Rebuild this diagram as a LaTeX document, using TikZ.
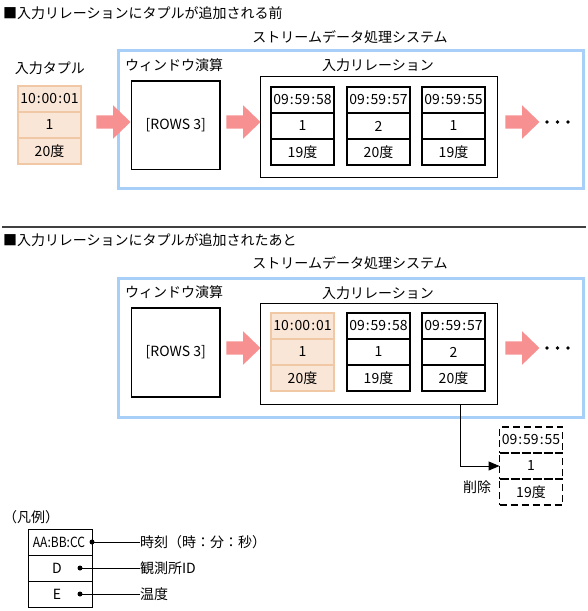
\documentclass[tikz,border=0pt]{standalone}
\usepackage{fontspec}
\setmainfont{Noto Sans CJK JP}
\usetikzlibrary{shapes.arrows,arrows.meta}
\definecolor{sysblue}{RGB}{168,207,247}
\definecolor{arrowpink}{RGB}{247,145,145}
\definecolor{peachfill}{RGB}{250,230,214}
\definecolor{peachline}{RGB}{240,200,165}
\definecolor{sepgray}{RGB}{64,64,64}
\newcommand\cln{\kern1pt:\kern1pt}
\tikzset{
  lbl/.style={inner sep=0pt, outer sep=0pt},
  sysbox/.style={draw=sysblue, line width=3pt, inner sep=0pt, outer sep=0pt, anchor=north west},
  plainbox/.style={draw=black, line width=1pt, inner sep=0pt, outer sep=0pt, anchor=north west},
  cell/.style={draw=black, line width=1.2pt, minimum width=63pt, minimum height=26pt, inner sep=0pt, outer sep=0pt},
  peach/.style={fill=peachfill, draw=peachline},
  dashcell/.style={dash pattern=on 7pt off 4pt},
  fatarrow/.style={single arrow, fill=arrowpink, draw=none, inner xsep=0pt, inner ysep=6.5pt,
    minimum height=34pt, single arrow head extend=10pt, single arrow tip angle=88, outer sep=0pt},
  legcell/.style={draw=black, line width=1pt, minimum width=64pt, minimum height=26pt, inner sep=0pt, outer sep=0pt}
}
\newcommand\tupl[7]{%
  \node[cell,#4,anchor=north west] (#1a) at (#2,#3) {#5};
  \node[cell,#4,anchor=north] (#1b) at (#1a.south) {#6};
  \node[cell,#4,anchor=north] (#1c) at (#1b.south) {#7};}
\begin{document}
\begin{tikzpicture}[x=1pt,y=-1pt,font=\fontsize{14}{16}\selectfont]
\useasboundingbox (0,0) rectangle (588,611);
% ---------- section 1 ----------
\node[lbl,anchor=west] (title1) at (3,13) {■入力リレーションにタプルが追加される前};
\node[lbl] (sysname1) at (350,37) {ストリームデータ処理システム};
\node[sysbox, minimum width=465pt, minimum height=138pt] (sys1) at (118,50) {};
\node[lbl] (intuplbl) at (50,68) {入力タプル};
\tupl{in}{18}{86}{peach}{10\cln 00\cln 01}{1}{20度}
\node[lbl,anchor=west] (win1lbl) at (125,65) {ウィンドウ演算};
\node[plainbox, line width=1.2pt, minimum width=88.5pt, minimum height=88.5pt] (win1) at (131.5,81) {};
\node[lbl] (rows1) at (win1.center) {[ROWS 3]};
\node[lbl] (rel1lbl) at (378,65) {入力リレーション};
\node[plainbox, minimum width=237pt, minimum height=101pt] (rel1) at (260,76) {};
\tupl{ra}{271}{87}{}{09\cln 59\cln 58}{1}{19度}
\tupl{rb}{347}{87}{}{09\cln 59\cln 57}{2}{20度}
\tupl{rc}{422}{87}{}{09\cln 59\cln 55}{1}{19度}
\node[fatarrow] (a1) at (110,122) {};
\node[fatarrow] (a2) at (240,122) {};
\node[fatarrow] (a3) at (519,122) {};
\fill (547,122) circle (1.8) (557.5,122) circle (1.8) (568,122) circle (1.8);
% separator
\draw[sepgray, line width=1.5pt] (2,227) -- (586,227);
% ---------- section 2 ----------
\node[lbl,anchor=west] (title2) at (3,240) {■入力リレーションにタプルが追加されたあと};
\node[lbl] (sysname2) at (350,263) {ストリームデータ処理システム};
\node[sysbox, minimum width=465pt, minimum height=139pt] (sys2) at (118,278) {};
\node[lbl,anchor=west] (win2lbl) at (125,292) {ウィンドウ演算};
\node[plainbox, line width=1.2pt, minimum width=88.5pt, minimum height=89pt] (win2) at (131.5,308) {};
\node[lbl] (rows2) at (win2.center) {[ROWS 3]};
\node[lbl] (rel2lbl) at (378,293) {入力リレーション};
\node[plainbox, minimum width=237pt, minimum height=101pt] (rel2) at (260,303) {};
\tupl{sa}{271}{313}{peach}{10\cln 00\cln 01}{1}{20度}
\tupl{sb}{347}{313}{}{09\cln 59\cln 58}{1}{19度}
\tupl{sc}{422}{313}{}{09\cln 59\cln 57}{2}{20度}
\node[fatarrow] (b2) at (240,348) {};
\node[fatarrow] (b3) at (519,348) {};
\fill (547,348) circle (1.8) (557.5,348) circle (1.8) (568,348) circle (1.8);
% deleted tuple
\tupl{d}{499.5}{427}{dashcell}{09\cln 59\cln 55}{1}{19度}
\coordinate (delstart) at ([xshift=200pt]rel2.south west);
\draw[line width=1pt, -{Triangle[length=11pt,width=9pt]}] (delstart) |- (db.west);
\node[lbl] (dellbl) at (477,487) {削除};
% ---------- legend ----------
\node[lbl,anchor=west] (leglbl) at (3,517) {（凡例）};
\node[legcell,anchor=north west] (la) at (28,529) {\hspace*{-2pt}\scalebox{0.86}[1]{AA:BB:CC}};
\node[legcell,anchor=north] (lb) at (la.south) {\hspace*{-6pt}D};
\node[legcell,anchor=north] (lc) at (lb.south) {\hspace*{-6pt}E};
\coordinate (da) at (92,542);
\coordinate (dbb) at (80,568);
\coordinate (dc) at (80,594);
\node[lbl,anchor=west] (ta) at (140,542) {時刻（時：分：秒）};
\node[lbl,anchor=west] (tb) at (140,568) {観測所ID};
\node[lbl,anchor=west] (tc) at (140,594) {温度};
\draw[line width=1pt] (da) -- (ta.west);
\draw[line width=1pt] (dbb) -- (tb.west);
\draw[line width=1pt] (dc) -- (tc.west);
\fill (da) circle (2.5) (dbb) circle (2.5) (dc) circle (2.5);
\end{tikzpicture}
\end{document}
